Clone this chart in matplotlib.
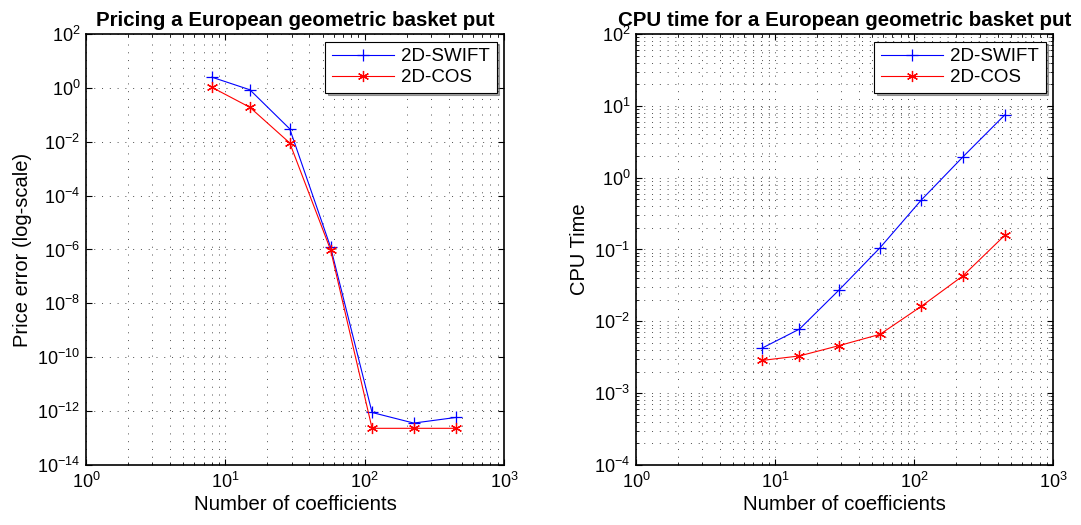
import matplotlib
matplotlib.use('Agg')
import matplotlib.pyplot as plt
from matplotlib.ticker import LogLocator, NullLocator, NullFormatter
import numpy


plt.rcParams['font.family'] = ['Liberation Sans', 'DejaVu Sans']
plt.rcParams['mathtext.default'] = 'regular'

# number of coefficients used by both methods
n_coef = [8, 15, 29, 57, 113, 225, 449]

# price errors
err_swift = [2.5, 0.85, 3.0e-2, 1.2e-6, 8.9e-13, 3.6e-13, 5.8e-13]
err_cos = [1.05, 0.19, 9.0e-3, 0.95e-6, 2.3e-13, 2.3e-13, 2.3e-13]

# CPU times
cpu_swift = [4.2e-3, 7.8e-3, 2.75e-2, 0.106, 0.49, 1.95, 7.45]
cpu_cos = [2.85e-3, 3.3e-3, 4.6e-3, 6.6e-3, 1.62e-2, 4.3e-2, 0.157]

titles = ['Pricing a European geometric basket put',
          'CPU time for a European geometric basket put']
ylabels = ['Price error (log-scale)', 'CPU Time']
labels = ['2D-SWIFT', '2D-COS']

W, H = 1081, 525
fig = plt.figure(figsize=(W / 100, H / 100), dpi=100)
ax1 = fig.add_axes([86 / W, 1 - 465 / H, 418 / W, 431 / H])
ax2 = fig.add_axes([636 / W, 1 - 465 / H, 417 / W, 431 / H])

dot = dict(linestyle=(0, (1, 7)), color='0.3', linewidth=0.7)
asterisk = (6, 2, 0)

for ax, ys, ttl, yl in [(ax1, (err_swift, err_cos), titles[0], ylabels[0]),
                        (ax2, (cpu_swift, cpu_cos), titles[1], ylabels[1])]:
    ax.loglog(n_coef, ys[0], color='blue', marker='+', markersize=9,
              markeredgewidth=0.9, linewidth=0.8, label=labels[0])
    ax.loglog(n_coef, ys[1], color='red', marker=asterisk, markersize=8,
              markeredgewidth=0.9, linewidth=0.8, label=labels[1])
    ax.set_xlim(1, 1000)
    ax.set_title(ttl, fontsize=14.8, fontweight='bold', pad=6)
    ax.set_xlabel('Number of coefficients', fontsize=14.8, labelpad=2)
    ax.set_ylabel(yl, fontsize=14.5, labelpad=4)
    ax.tick_params(which='both', direction='in', top=True, right=True,
                   labelsize=13)
    ax.tick_params(which='major', length=4)
    ax.tick_params(which='minor', length=2)
    ax.tick_params(axis='x', which='major', pad=5)
    ax.tick_params(axis='y', which='major', pad=4)
    ax.xaxis.set_major_locator(LogLocator(base=10, numticks=10))
    ax.xaxis.set_minor_locator(LogLocator(base=10, subs=numpy.arange(2, 10), numticks=20))
    ax.xaxis.set_minor_formatter(NullFormatter())
    ax.grid(True, which='both', axis='x', **dot)
    for sp in ax.spines.values():
        sp.set_linewidth(1.2)
    leg = ax.legend(loc='upper right', fontsize=13.5, fancybox=False,
                    shadow=True, edgecolor='black', framealpha=1,
                    borderaxespad=0.4, handlelength=3.3, handletextpad=0.4,
                    labelspacing=0.2, borderpad=0.35)
    leg.get_frame().set_linewidth(0.8)

# price error axis: labelled every second decade
ax1.set_ylim(1e-14, 1e2)
ax1.yaxis.set_major_locator(LogLocator(base=100, numticks=12))
ax1.yaxis.set_minor_locator(NullLocator())
ax1.grid(True, which='major', axis='y', **dot)

# CPU time axis: every decade with minor grid
ax2.set_ylim(1e-4, 1e2)
ax2.yaxis.set_major_locator(LogLocator(base=10, numticks=10))
ax2.yaxis.set_minor_locator(LogLocator(base=10, subs=numpy.arange(2, 10), numticks=20))
ax2.yaxis.set_minor_formatter(NullFormatter())
ax2.grid(True, which='both', axis='y', **dot)

plt.savefig('out.png', dpi=100)
